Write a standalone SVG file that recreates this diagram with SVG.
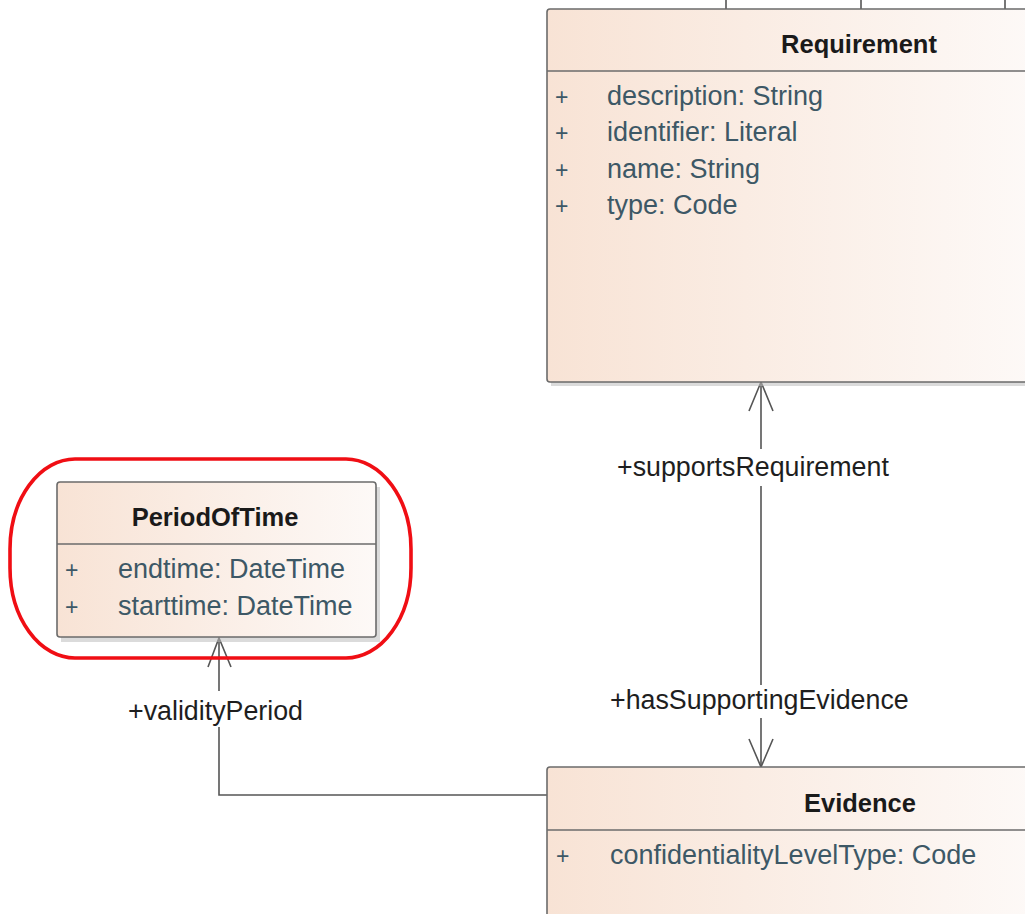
<svg xmlns="http://www.w3.org/2000/svg" width="1025" height="914" viewBox="0 0 1025 914">
<defs>
<linearGradient id="fillG" x1="0" y1="0" x2="1" y2="0">
<stop offset="0" stop-color="#f8e3d5"/>
<stop offset="1" stop-color="#fdf9f7"/>
</linearGradient>
<style>
.box{fill:url(#fillG);stroke:#6b6b6b;stroke-width:1.6}
.shadow{fill:#bdbdbd;opacity:0.55}
.sep{stroke:#6b6b6b;stroke-width:1.6}
.title{font-family:"Liberation Sans",Arial,sans-serif;font-weight:bold;font-size:25.5px;fill:#1a1a1a;text-anchor:middle}
.attr{font-family:"Liberation Sans",Arial,sans-serif;font-size:27px;fill:#3d5866}
.plus{font-family:"Liberation Sans",Arial,sans-serif;font-size:23px;fill:#3d5866}
.lbl{font-family:"Liberation Sans",Arial,sans-serif;font-size:26.8px;fill:#1e1e1e}
.conn{fill:none;stroke:#555;stroke-width:1.6}
.hl{fill:none;stroke:#f00e14;stroke-width:3.6}
</style>
</defs>
<rect width="1025" height="914" fill="#ffffff"/>

<g id="connectors">
<line class="conn" x1="726" y1="0" x2="726" y2="9"/>
<line class="conn" x1="861" y1="0" x2="861" y2="9"/>
<line class="conn" x1="1005" y1="0" x2="1005" y2="9"/>
<path class="conn" d="M761 382 V449 M761 486 V685 M761 718 V767"/>
<path class="conn" d="M749 411 L761 382 L773 411"/>
<path class="conn" d="M749 739 L761 767 L773 739"/>
<text class="lbl" x="617" y="476">+supportsRequirement</text>
<text class="lbl" x="610" y="709">+hasSupportingEvidence</text>
<path class="conn" d="M219 638 V691 M219 727 V795 H547"/>
<path class="conn" d="M208 667 L219 638 L231 667"/>
<text class="lbl" x="128" y="720">+validityPeriod</text>
</g>

<g id="Requirement">
<rect class="shadow" x="551" y="14" width="480" height="372"/>
<rect class="box" x="547" y="9" width="484" height="373" rx="3"/>
<line class="sep" x1="547" y1="71" x2="1031" y2="71"/>
<text class="title" x="859" y="53">Requirement</text>
<text class="plus" x="555" y="105">+</text>
<text class="attr" x="607" y="105">description: String</text>
<text class="plus" x="555" y="141">+</text>
<text class="attr" x="607" y="141">identifier: Literal</text>
<text class="plus" x="555" y="178">+</text>
<text class="attr" x="607" y="178">name: String</text>
<text class="plus" x="555" y="214">+</text>
<text class="attr" x="607" y="214">type: Code</text>
</g>

<g id="PeriodOfTime">
<rect class="shadow" x="61" y="487" width="319" height="155"/>
<rect class="box" x="57" y="482" width="319" height="155" rx="3"/>
<line class="sep" x1="57" y1="544" x2="376" y2="544"/>
<text class="title" x="215" y="526">PeriodOfTime</text>
<text class="plus" x="65" y="578">+</text>
<text class="attr" x="118" y="578">endtime: DateTime</text>
<text class="plus" x="65" y="615">+</text>
<text class="attr" x="118" y="615">starttime: DateTime</text>
</g>

<g id="Evidence">
<rect class="shadow" x="551" y="772" width="480" height="150"/>
<rect class="box" x="547" y="767" width="484" height="160" rx="3"/>
<line class="sep" x1="547" y1="830" x2="1031" y2="830"/>
<text class="title" x="860" y="812">Evidence</text>
<text class="plus" x="556" y="864">+</text>
<text class="attr" x="610" y="864">confidentialityLevelType: Code</text>
</g>

<g id="highlight">
<rect class="hl" x="10" y="459" width="401" height="199" rx="65" ry="90"/>
</g>
</svg>
